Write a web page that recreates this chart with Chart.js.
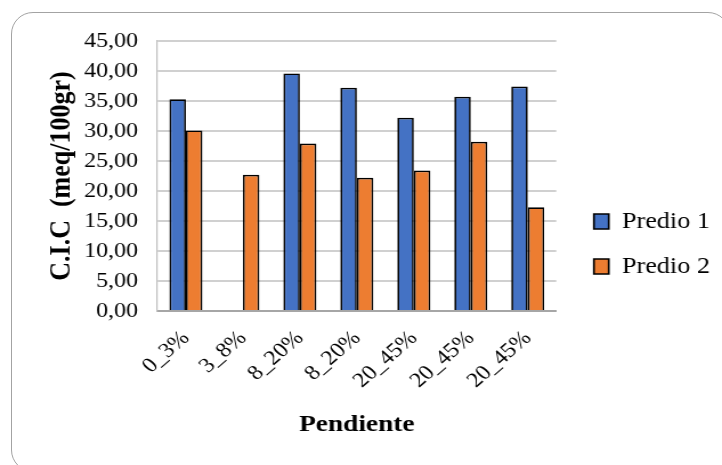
<!DOCTYPE html>
<html>
<head>
<meta charset="utf-8">
<script src="https://cdn.jsdelivr.net/npm/chart.js@4/dist/chart.umd.min.js"></script>
<style>
  html, body { margin: 0; padding: 0; background: #fff; overflow: hidden; }
  #frame { position: absolute; left: 11px; top: 12px; width: 719px; height: 460px;
           border: 1.5px solid #a3a3a3; border-radius: 22px; box-sizing: border-box; }
  #c { position: absolute; left: 0; top: 0; transform: scaleX(1.1406); transform-origin: 0 0; }
</style>
</head>
<body>
<div id="frame"></div>
<canvas id="c" width="633" height="465"></canvas>
<script>
const categories = ['0_3%', '3_8%', '8_20%', '8_20%', '20_45%', '20_45%', '20_45%'];
const predio1 = [35.3, null, 39.6, 37.2, 32.2, 35.7, 37.4];
const predio2 = [30.1, 22.7, 27.9, 22.2, 23.4, 28.2, 17.3];
const seriesNames = ['Predio 1', 'Predio 2'];
const yTitle = 'C.I.C  (meq/100gr)';
const xTitle = 'Pendiente';

const serif = "'Liberation Serif', serif";
Chart.defaults.font.family = serif;
Chart.defaults.color = '#000';

const legendShift = {
  id: 'legendShift',
  afterLayout(chart) {
    const lg = chart.legend;
    if (lg) { lg.left += 11; lg.right += 11; lg.top += 147; lg.bottom += 147; }
  }
};

new Chart(document.getElementById('c'), {
  type: 'bar',
  data: {
    labels: categories,
    datasets: [
      { label: seriesNames[0], data: predio1, backgroundColor: '#4472C4', borderColor: '#000', borderWidth: 1.7 },
      { label: seriesNames[1], data: predio2, backgroundColor: '#ED7D31', borderColor: '#000', borderWidth: 1.7 }
    ]
  },
  options: {
    responsive: false,
    animation: false,
    devicePixelRatio: 1,
    layout: { padding: { top: 41, left: 39, right: 11.5, bottom: 26 } },
    datasets: { bar: { categoryPercentage: 0.58, barPercentage: 1 } },
    plugins: {
      tooltip: { enabled: false },
      legend: {
        position: 'right',
        align: 'start',
        labels: {
          color: '#000',
          font: { family: serif, size: 23 },
          boxWidth: 13, boxHeight: 15,
          padding: 22
        }
      }
    },
    scales: {
      x: {
        afterFit(s) { s.height = 128; },
        grid: { display: false, drawTicks: false },
        border: { color: '#a6a6a6', width: 2 },
        ticks: { color: '#000', font: { size: 21 }, maxRotation: 45, minRotation: 45, padding: 15, autoSkip: false },
        title: { display: true, text: xTitle, color: '#000', font: { size: 24, weight: 'bold' }, padding: { top: 0, bottom: 0 } }
      },
      y: {
        afterFit(s) { s.width = 99; },
        min: 0, max: 45,
        grid: { color: '#d0d0d0', lineWidth: 2, drawTicks: false },
        border: { color: '#bfbfbf', width: 1.2 },
        ticks: {
          stepSize: 5, color: '#000', padding: 17,
          font: { size: 21 },
          callback: v => v.toFixed(2).replace('.', ',')
        },
        title: { display: true, text: yTitle, color: '#000', font: { size: 26, weight: 'bold' }, padding: { top: 0, bottom: 0 } }
      }
    }
  },
  plugins: [legendShift]
});
</script>
</body>
</html>
